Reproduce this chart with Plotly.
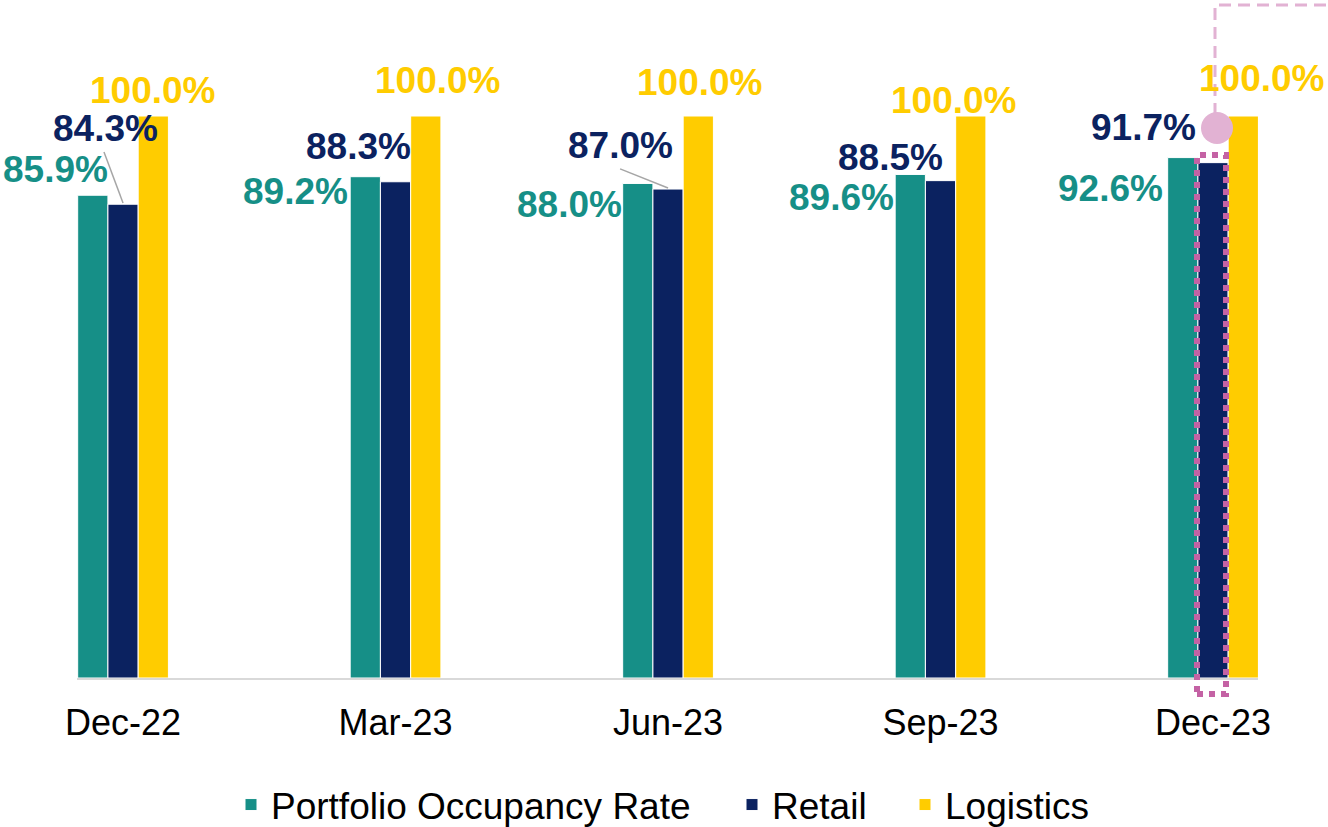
import plotly.graph_objects as go

# ---- data ----
categories = ["Dec-22", "Mar-23", "Jun-23", "Sep-23", "Dec-23"]
portfolio = [85.9, 89.2, 88.0, 89.6, 92.6]
retail = [84.3, 88.3, 87.0, 88.5, 91.7]
logistics = [100.0, 100.0, 100.0, 100.0, 100.0]
series_names = ["Portfolio Occupancy Rate", "Retail", "Logistics"]

# ---- styling / label placement (not data) ----
colors = ["#168F87", "#0B2260", "#FFCC00"]
# label centre offsets: (dx in category units, y in % units)
teal_lab = [(-0.248, 90.4), (-0.367, 86.6), (-0.360, 84.2), (-0.365, 85.5), (-0.378, 87.1)]
navy_lab = [(-0.066, 97.8), (-0.136, 94.6), (-0.174, 94.8), (-0.183, 92.6), (-0.255, 98.0)]
yell_lab = [(0.110, 104.6), (0.154, 106.3), (0.117, 106.0), (0.048, 102.8), (0.180, 106.7)]
leaders = {0: ((-0.070, 93.6), (0.0, 84.5)), 2: ((-0.176, 90.6), (0.0, 87.2))}

FONT = "Liberation Sans, Arial, sans-serif"
L, R, T, B = 77, 70, 0, 149
W, H = 1328, 827
PW, PH = W - L - R, H - T - B
XR = [-0.169, 4.165]
YR = [0, 120.64]
CAT_PX = PW / (XR[1] - XR[0])


def px_x(px):
    return (px - L) / PW


def px_y(py):
    return (H - B - py) / PH


fig = go.Figure()
xs = list(range(len(categories)))
for i, (name, vals) in enumerate(zip(series_names, [portfolio, retail, logistics])):
    fig.add_trace(go.Bar(
        x=xs, y=vals, name=name,
        marker=dict(color=colors[i], line=dict(color="white", width=1)),
        legend="legend" if i == 0 else f"legend{i+1}",
        hoverinfo="skip",
    ))

annotations = []
for k in xs:
    for vals, pos, col in [(portfolio, teal_lab, colors[0]),
                           (retail, navy_lab, colors[1]),
                           (logistics, yell_lab, colors[2])]:
        dx, yy = pos[k]
        annotations.append(dict(
            x=k, y=yy, xref="x", yref="y", xshift=dx * CAT_PX,
            text=f"<b>{vals[k]:.1f}%</b>", showarrow=False,
            xanchor="center", yanchor="middle",
            font=dict(family=FONT, size=37, color=col),
        ))

shapes = []
for k, ((x0, y0), (x1, y1)) in leaders.items():
    shapes.append(dict(type="line", xref="x", yref="y",
                       x0=k + x0, y0=y0, x1=k + x1, y1=y1,
                       line=dict(color="#A6A6A6", width=1.5)))

# highlight on last retail bar
shapes.append(dict(type="rect", xref="paper", yref="paper",
                   x0=px_x(1197), x1=px_x(1226), y0=px_y(694), y1=px_y(155),
                   line=dict(color="#C462A4", width=6, dash="6px,6px"),
                   fillcolor="rgba(0,0,0,0)", layer="above"))
shapes.append(dict(type="path", xref="paper", yref="paper",
                   path=f"M{px_x(1215)},{px_y(115)} L{px_x(1215)},{px_y(5)} L{px_x(1340)},{px_y(5)}",
                   line=dict(color="#E2B2D3", width=3, dash="12px,7px"),
                   layer="above"))
shapes.append(dict(type="circle", xref="paper", yref="paper",
                   x0=px_x(1201), x1=px_x(1233), y0=px_y(144), y1=px_y(112),
                   fillcolor="#E2B2D3", line=dict(width=0), layer="above"))

leg_common = dict(orientation="h", yanchor="middle", y=(H - 805) / H, xanchor="left",
                  xref="container", yref="container",
                  font=dict(family=FONT, size=37, color="#000000"),
                  bgcolor="rgba(0,0,0,0)", borderwidth=0, itemclick=False)

fig.update_layout(
    width=W, height=H,
    margin=dict(l=L, r=R, t=T, b=B, pad=0, autoexpand=False),
    paper_bgcolor="white", plot_bgcolor="white",
    barmode="group", bargap=0.667, bargroupgap=0,
    xaxis=dict(tickvals=xs, ticktext=categories, range=XR, showgrid=False,
               zeroline=False, showline=True, linecolor="#D9D9D9", linewidth=2,
               ticks="", ticklabelstandoff=12, automargin=False,
               tickfont=dict(family=FONT, size=36, color="#000000")),
    yaxis=dict(range=YR, visible=False, showgrid=False, zeroline=False, automargin=False),
    legend=dict(x=231 / W, **leg_common),
    legend2=dict(x=732 / W, **leg_common),
    legend3=dict(x=905 / W, **leg_common),
    annotations=annotations,
    shapes=shapes,
    showlegend=True,
)

post = (
    "var s=document.documentElement.style, b=document.body.style;"
    "s.margin='0';s.padding='0';s.overflow='hidden';"
    "b.margin='0';b.padding='0';b.overflow='hidden';"
)

fig.write_html("out.html", config={"displayModeBar": False}, post_script=post)
